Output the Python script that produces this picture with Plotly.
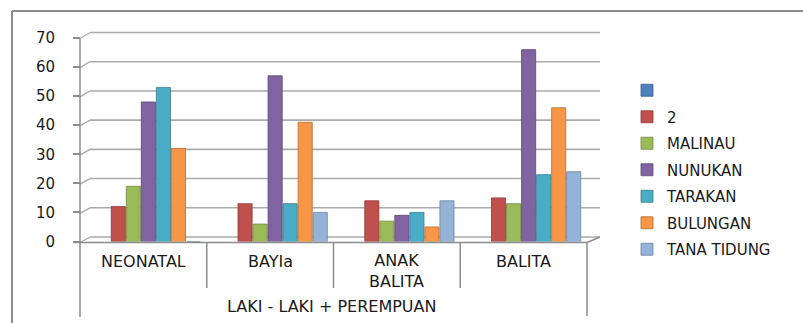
import plotly.graph_objects as go

# ---- data -------------------------------------------------------------
categories = ["NEONATAL", "BAYIa", "ANAK BALITA", "BALITA"]
category_labels = ["NEONATAL", "BAYIa", "ANAK<br>BALITA", "BALITA"]
group_label = "LAKI - LAKI + PEREMPUAN"

series_names = ["", "2", "MALINAU", "NUNUKAN", "TARAKAN", "BULUNGAN", "TANA TIDUNG"]
series_blank = [None, None, None, None]
series_2 = [12, 13, 14, 15]
malinau = [19, 6, 7, 13]
nunukan = [48, 57, 9, 66]
tarakan = [53, 13, 10, 23]
bulungan = [32, 41, 5, 46]
tana_tidung = [0, 10, 14, 24]

y_ticks = [0, 10, 20, 30, 40, 50, 60, 70]

series_values = [series_blank, series_2, malinau, nunukan, tarakan, bulungan, tana_tidung]
colors = ["#4F81BD", "#C0504D", "#9BBB59", "#8064A2", "#4BACC6", "#F79646", "#95B3D7"]
edges = ["#385D8A", "#8C3836", "#71893F", "#5C4776", "#357D91", "#B66D31", "#6A84A8"]

# ---- page geometry (pixels) ------------------------------------------
W, H = 803, 323
FONT = "DejaVu Sans"
TEXT = "#1a1a1a"
LINE = "#8c8c8c"
GRID = "#ababab"


def px(x):
    return x / W


def py(y):
    return 1 - y / H


# front plane (axis) and back wall of the pseudo-3D box
FX0, FX1 = 80, 587
BX0, BX1 = 90, 600
FY0, FY70 = 242.5, 38.5
BY0, BY70 = 237.0, 32.5


def y_front(v):
    return FY0 + (FY70 - FY0) * v / 70


def y_back(v):
    return BY0 + (BY70 - BY0) * v / 70


fig = go.Figure()
for i, (name, vals) in enumerate(zip(series_names, series_values)):
    fig.add_trace(go.Bar(
        name=name,
        x=categories,
        y=vals,
        marker=dict(color=colors[i], line=dict(color=edges[i], width=0.8)),
        legendgroup=f"g{i}",
        hoverinfo="skip",
    ))

shapes = []


def seg(x0, y0, x1, y1, color=LINE, width=1.5):
    shapes.append(dict(type="line", xref="paper", yref="paper",
                       x0=px(x0), y0=py(y0), x1=px(x1), y1=py(y1),
                       line=dict(color=color, width=width), layer="below"))


# outer chart border (top and left edge)
seg(12, 11, W + 2, 11, color="#8a8a8a", width=2)
seg(12, 11, 12, H + 2, color="#8a8a8a", width=2)

# back-wall gridlines and the side-wall diagonals joining them to the axis
for v in y_ticks:
    seg(BX0, y_back(v), BX1, y_back(v), color=GRID, width=1.6)
    seg(FX0, y_front(v), BX0, y_back(v), color=GRID, width=1.4)

# floor front edge and its right-hand depth edge
seg(73, FY0, FX1, FY0, color=LINE, width=1.5)
seg(FX1, FY0, BX1, BY0, color=LINE, width=1.4)

# category axis: outer verticals and separators between categories
step = (FX1 - FX0) / len(categories)
seg(FX0, FY70, FX0, 317, color=LINE, width=1.5)
seg(FX1, FY0, FX1, 316, color=LINE, width=1.5)
for k in range(1, len(categories)):
    xs = FX0 + k * step
    seg(xs, FY0, xs, 288, color=LINE, width=1.5)

# category names under each category box (two-line names are centred lower)
annotations = []
for k, lab in enumerate(category_labels):
    two_lines = "<br>" in lab
    annotations.append(dict(
        x=px(FX0 + (k + 0.5) * step), y=py(271 if two_lines else 261.5),
        xref="paper", yref="paper", text=lab, showarrow=False,
        xanchor="center", yanchor="middle",
        font=dict(family=FONT, size=16, color=TEXT),
    ))
annotations.append(dict(
    x=px((FX0 + FX1) / 2 - 2), y=py(306.5), xref="paper", yref="paper",
    text=group_label, showarrow=False, xanchor="center", yanchor="middle",
    font=dict(family=FONT, size=16, color=TEXT),
))

fig.update_layout(
    width=W, height=H,
    margin=dict(l=0, r=0, t=0, b=0, pad=0, autoexpand=False),
    paper_bgcolor="white",
    plot_bgcolor="rgba(0,0,0,0)",
    barmode="group",
    bargap=0.17,
    bargroupgap=0.06,
    shapes=shapes,
    annotations=annotations,
    font=dict(family=FONT, color=TEXT),
    xaxis=dict(
        domain=[px(FX0 + 5), px(FX1 + 5)],
        range=[-0.5, len(categories) - 0.5],
        showticklabels=False, showgrid=False, zeroline=False,
        showline=False, ticks="", automargin=False,
    ),
    yaxis=dict(
        domain=[py(241.5), py(38.0)],
        range=[0, 70],
        tickvals=y_ticks,
        anchor="free", position=px(FX0),
        showgrid=False, zeroline=False,
        showline=False, automargin=False,
        ticks="outside", ticklen=7, tickcolor=LINE, tickwidth=1.5,
        ticklabelstandoff=15,
        tickfont=dict(family=FONT, size=15, color=TEXT),
    ),
    legend=dict(
        x=px(627), y=py(74), xanchor="left", yanchor="top",
        traceorder="grouped", tracegroupgap=4,
        itemwidth=30,
        font=dict(family=FONT, size=15, color=TEXT),
        bgcolor="rgba(0,0,0,0)",
    ),
)

fig.write_html("out.html")
